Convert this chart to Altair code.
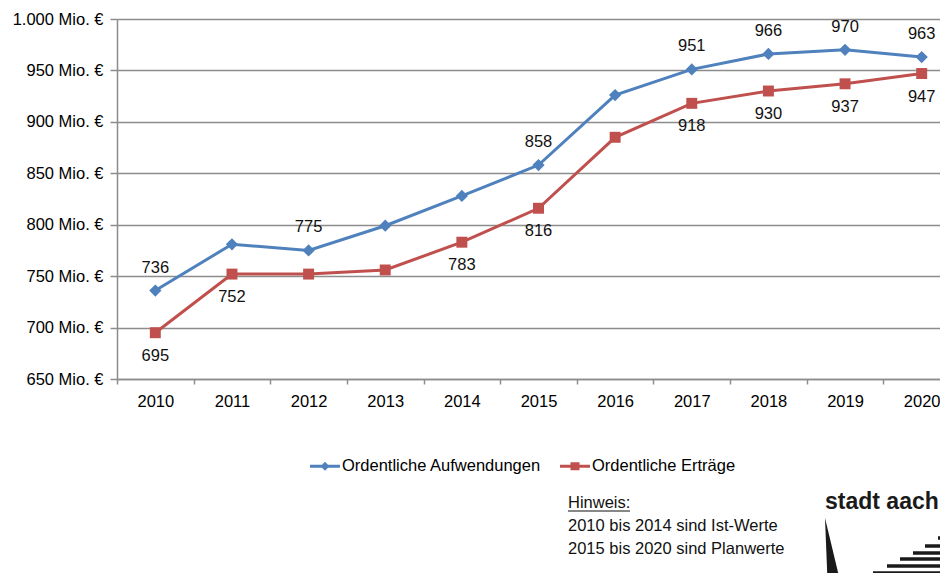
import altair as alt
import pandas as pd

# ---- data ----
years = ["2010", "2011", "2012", "2013", "2014", "2015", "2016", "2017", "2018", "2019", "2020"]
aufwendungen = [736, 781, 775, 799, 828, 858, 926, 951, 966, 970, 963]
ertraege = [695, 752, 752, 756, 783, 816, 885, 918, 930, 937, 947]
aufw_labelled = ["2010", "2012", "2015", "2017", "2018", "2019", "2020"]
ertr_labelled = ["2010", "2011", "2014", "2015", "2017", "2018", "2019", "2020"]
series_names = ["Ordentliche Aufwendungen", "Ordentliche Erträge"]
series_colors = ["#4F81BD", "#C0504D"]
y_ticks = [650, 700, 750, 800, 850, 900, 950, 1000]
note_lines = ["Hinweis:", "2010 bis 2014 sind Ist-Werte", "2015 bis 2020 sind Planwerte"]
logo_text = "stadt aach"

rows = []
for i, yr in enumerate(years):
    rows.append({"year": yr, "series": series_names[0], "value": aufwendungen[i],
                 "label": yr in aufw_labelled})
    rows.append({"year": yr, "series": series_names[1], "value": ertraege[i],
                 "label": yr in ertr_labelled})
df = pd.DataFrame(rows)

FONT = "Liberation Sans"
FS = 16.5
GRID = "#8C8C8C"
W, H = 823, 360
BAND_RANGE = 843  # 11 bands of ~76.6px; the last band runs past the right edge

x_enc = alt.X("year:O", sort=years,
              scale=alt.Scale(range=[0, BAND_RANGE], paddingInner=0, paddingOuter=0),
              axis=alt.Axis(title=None, labelAngle=0, tickBand="extent", tickSize=5,
                            labelPadding=9, labelFontSize=FS, labelFont=FONT, labelColor="#000000",
                            domainColor=GRID, tickColor=GRID, domainWidth=1.5, tickWidth=1.5,
                            grid=False))
y_enc = alt.Y("value:Q", scale=alt.Scale(domain=[650, 1000], nice=False, zero=False),
              axis=alt.Axis(title=None, values=y_ticks, tickSize=7, labelPadding=7,
                            labelFontSize=FS, labelFont=FONT, labelColor="#000000",
                            labelExpr="replace(format(datum.value, ','), ',', '.') + ' Mio. €'",
                            grid=True, gridColor=GRID, gridWidth=1.5, domainColor=GRID,
                            tickColor=GRID, domainWidth=1.5, tickWidth=1.5))

base = alt.Chart(df)
xs = alt.X("year:O", sort=years)


def series_layers(name, color, shape, size, dy):
    sub = base.transform_filter(alt.datum.series == name)
    ln = sub.mark_line(strokeWidth=3, color=color).encode(x=x_enc, y=y_enc)
    pt = sub.mark_point(filled=True, shape=shape, size=size, opacity=1, color=color).encode(
        x=xs, y="value:Q")
    tx = sub.transform_filter(alt.datum.label).mark_text(
        dy=dy, fontSize=FS, font=FONT, color="#111111").encode(x=xs, y="value:Q", text="value:Q")
    return [ln, pt, tx]


layers = []
layers += series_layers(series_names[0], series_colors[0], "diamond", 150, -23)
layers += series_layers(series_names[1], series_colors[1], "square", 120, 23)

leg_paths = [
    "M-1,-0.1H1V0.1H-1Z M0,-0.3L0.3,0L0,0.3L-0.3,0Z",
    "M-1,-0.1H1V0.1H-1Z M-0.3,-0.27H0.3V0.27H-0.3Z",
]
leg_props = dict(title=None, orient="none", legendX=193, legendY=432, direction="horizontal",
                 symbolSize=900, labelFontSize=FS, labelFont=FONT, labelColor="#000000",
                 labelOffset=2, columnPadding=18, padding=0, symbolStrokeWidth=0, labelLimit=0)
legend_layer = base.mark_point(filled=True, size=900, opacity=1).encode(
    x=alt.value(-500), y=alt.value(-500),
    color=alt.Color("series:N", scale=alt.Scale(domain=series_names, range=series_colors),
                    legend=alt.Legend(**leg_props)),
    shape=alt.Shape("series:N", scale=alt.Scale(domain=series_names, range=leg_paths),
                    legend=alt.Legend(**leg_props)),
)
layers.append(legend_layer)

one = pd.DataFrame({"t": [0]})
note = alt.Chart(one).mark_text(
    align="left", baseline="middle", fontSize=FS, font=FONT, color="#111111", lineHeight=23
).encode(x=alt.value(451), y=alt.value(484), text=alt.value(note_lines))

underline = alt.Chart(one).mark_rule(color="#111111", strokeWidth=1.2).encode(
    x=alt.value(451), x2=alt.value(513), y=alt.value(492))

logo_t = alt.Chart(one).mark_text(
    align="left", baseline="alphabetic", fontSize=23, font="Liberation Sans", fontWeight="bold",
    color="#1a1a1a"
).encode(x=alt.value(708), y=alt.value(490), text=alt.value(logo_text))

logo_tri = alt.Chart(one).mark_point(
    filled=True, color="#1a1a1a", opacity=1, size=3969, shape="M0,-1L0.08,1L0.48,1Z"
).encode(x=alt.value(708), y=alt.value(530.5))

# decorative logo stripes (view-space pixels)
stripe_y = [519, 527, 534, 540, 547, 554, 560]
stripe_x = [821, 808, 796, 783, 770, 756, 743]
logo_s = alt.Chart(pd.DataFrame({"x": stripe_x, "y": stripe_y})).mark_rule(
    color="#1a1a1a", strokeWidth=3.5).encode(
    x=alt.X("x:Q", scale=None), x2=alt.value(W), y=alt.Y("y:Q", scale=None))

layers += [note, underline, logo_t, logo_tri, logo_s]

chart = alt.layer(*layers).properties(
    width=W, height=H,
    autosize=alt.AutoSizeParams(type="none"),
    padding={"left": 109, "top": 11, "right": 0, "bottom": 194},
    background="#ffffff",
).configure_view(stroke=None)

chart.save("out.html", embed_options={"renderer": "svg", "actions": False})
